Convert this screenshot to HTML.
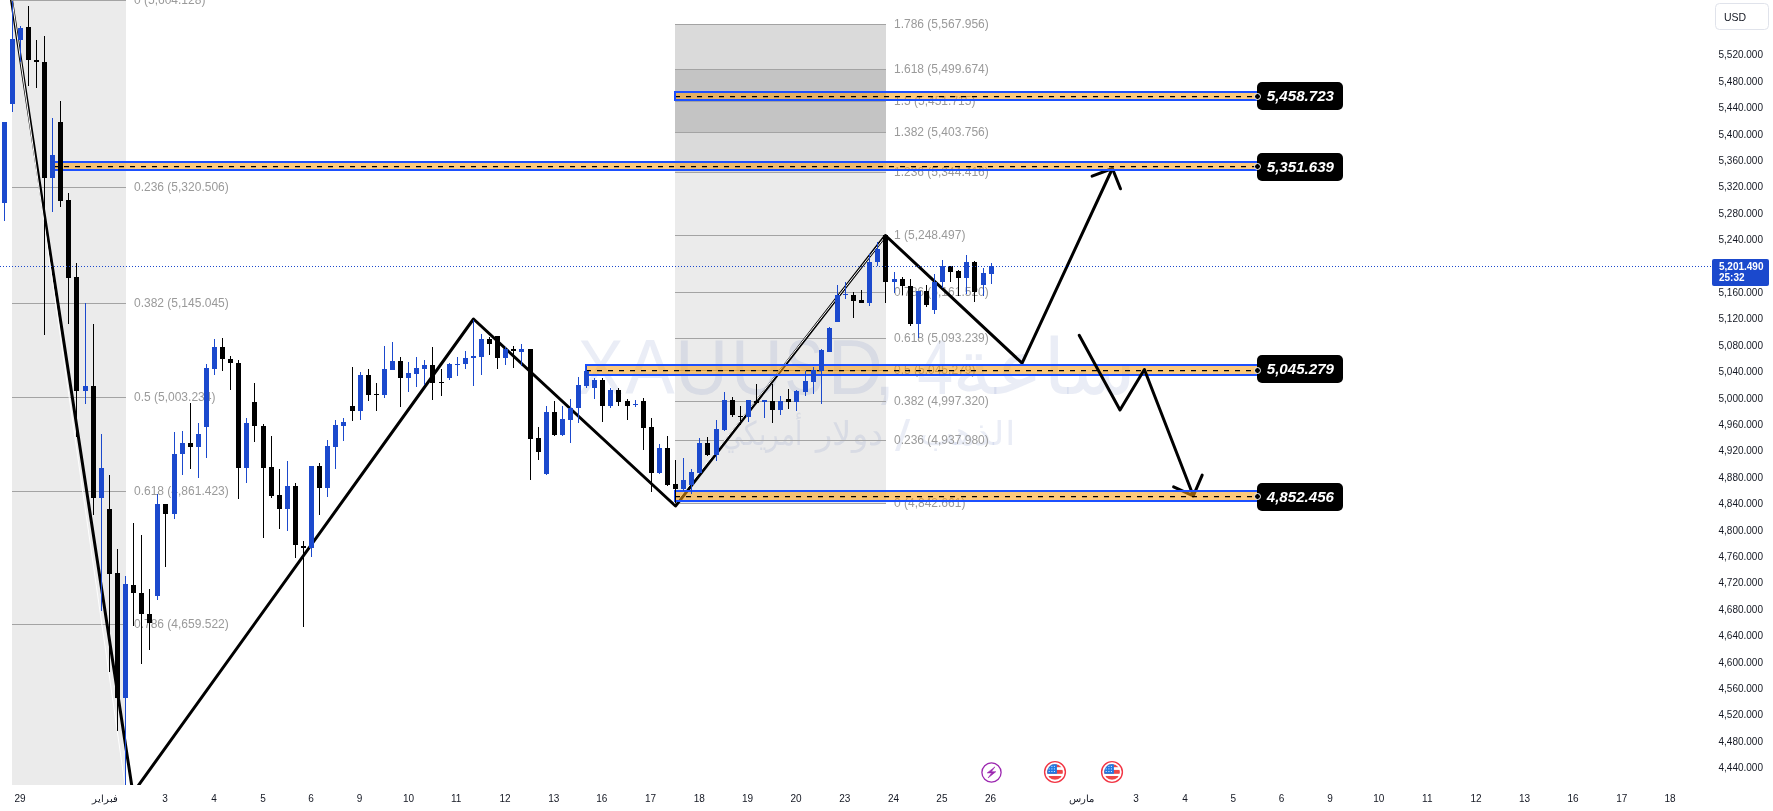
<!DOCTYPE html><html><head><meta charset="utf-8"><title>XAUUSD 4H</title><style>
html,body{margin:0;padding:0;background:#fff;overflow:hidden;width:1773px;height:811px}
svg{display:block;font-family:"Liberation Sans",sans-serif;will-change:transform}
</style></head><body>
<svg width="1773" height="811" viewBox="0 0 1773 811">
<rect x="0" y="0" width="1773" height="811" fill="#ffffff"/>
<defs><clipPath id="pane"><rect x="0" y="0" width="1711" height="785"/></clipPath></defs>
<g clip-path="url(#pane)">
<rect x="12" y="0" width="114" height="785" fill="#ebebeb"/>
<rect x="675" y="24" width="211" height="45" fill="#dadada"/>
<rect x="675" y="69" width="211" height="63" fill="#c4c4c4"/>
<rect x="675" y="132" width="211" height="40" fill="#dadada"/>
<rect x="675" y="172" width="211" height="331" fill="#ebebeb"/>
<g fill="rgb(50,80,170)" fill-opacity="0.1">
<text x="100" y="394.5" font-size="77" transform="matrix(0.8937,0,0,1,488.34,0)">X</text>
<text x="100" y="394.5" font-size="77" transform="matrix(0.9627,0,0,1,528.93,0)">A</text>
<text x="100" y="394.5" font-size="77" transform="matrix(0.9500,0,0,1,580.30,0)">U</text>
<text x="100" y="394.5" font-size="77" transform="matrix(0.9273,0,0,1,638.21,0)">U</text>
<text x="100" y="394.5" font-size="77" transform="matrix(0.7556,0,0,1,709.18,0)">S</text>
<text x="100" y="394.5" font-size="77" transform="matrix(0.9913,0,0,1,728.72,0)">D</text>
<text x="100" y="394.5" font-size="77" transform="matrix(1.0000,0,0,1,774.00,0)">,</text>
<text x="100" y="394.5" font-size="77" transform="matrix(0.8375,0,0,1,833.41,0)">4</text>
<text x="957" y="394.5" font-size="77" transform="matrix(1.0556,0,0,1,-58.44,0)">ساعة</text>
<text x="100" y="445" font-size="33" transform="matrix(0.7938,0,0,1,643.03,0)">أمريكي</text>
<text x="100" y="445" font-size="33" transform="matrix(1.0303,0,0,1,713.03,0)">دولار</text>
<text x="100" y="451" font-size="44" transform="matrix(1.2500,0,0,1,770.00,0)">/</text>
<text x="100" y="445" font-size="33" transform="matrix(1.1438,0,0,1,804.34,0)">الذهب</text>
</g>
<rect x="12" y="0" width="114" height="1" fill="#a3a3a3"/>
<rect x="12" y="187" width="114" height="1" fill="#a3a3a3"/>
<rect x="12" y="303" width="114" height="1" fill="#a3a3a3"/>
<rect x="12" y="397" width="114" height="1" fill="#a3a3a3"/>
<rect x="12" y="491" width="114" height="1" fill="#a3a3a3"/>
<rect x="12" y="624" width="114" height="1" fill="#a3a3a3"/>
<rect x="675" y="24" width="211" height="1" fill="#a3a3a3"/>
<rect x="675" y="69" width="211" height="1" fill="#a3a3a3"/>
<rect x="675" y="101" width="211" height="1" fill="#a3a3a3"/>
<rect x="675" y="132" width="211" height="1" fill="#a3a3a3"/>
<rect x="675" y="172" width="211" height="1" fill="#a3a3a3"/>
<rect x="675" y="235" width="211" height="1" fill="#a3a3a3"/>
<rect x="675" y="292" width="211" height="1" fill="#a3a3a3"/>
<rect x="675" y="338" width="211" height="1" fill="#a3a3a3"/>
<rect x="675" y="370" width="211" height="1" fill="#a3a3a3"/>
<rect x="675" y="401" width="211" height="1" fill="#a3a3a3"/>
<rect x="675" y="440" width="211" height="1" fill="#a3a3a3"/>
<rect x="675" y="503" width="211" height="1" fill="#a3a3a3"/>
<g fill="#9a9a9a" font-size="12">
<text x="134" y="4.3">0 (5,604.128)</text>
<text x="134" y="191.3">0.236 (5,320.506)</text>
<text x="134" y="307.3">0.382 (5,145.045)</text>
<text x="134" y="401.3">0.5 (5,003.234)</text>
<text x="134" y="495.3">0.618 (4,861.423)</text>
<text x="134" y="628.3">0.786 (4,659.522)</text>
<text x="894" y="28.3">1.786 (5,567.956)</text>
<text x="894" y="73.3">1.618 (5,499.674)</text>
<text x="894" y="105.3">1.5 (5,451.715)</text>
<text x="894" y="136.3">1.382 (5,403.756)</text>
<text x="894" y="176.3">1.236 (5,344.416)</text>
<text x="894" y="239.3">1 (5,248.497)</text>
<text x="894" y="296.3">0.786 (5,161.520)</text>
<text x="894" y="342.3">0.618 (5,093.239)</text>
<text x="894" y="374.3">0.5 (5,045.279)</text>
<text x="894" y="405.3">0.382 (4,997.320)</text>
<text x="894" y="444.3">0.236 (4,937.980)</text>
<text x="894" y="507.3">0 (4,842.661)</text>
</g>
<polyline points="11.5,0 132.9,793.1 473.5,319 675.5,506 885.5,235.5 1022.1,363.2 1112.4,168.5" stroke="#000" stroke-width="3" fill="none" stroke-linejoin="round" stroke-linecap="round"/>
<polyline points="1092.1,176.2 1112.4,168.5 1120.5,188.8" stroke="#000" stroke-width="3" fill="none" stroke-linejoin="round" stroke-linecap="round"/>
<line x1="12" y1="0" x2="126" y2="792" stroke="#fff" stroke-width="1"/>
<line x1="675" y1="503.5" x2="886" y2="235.5" stroke="#fff" stroke-width="1"/>
<rect x="674" y="93" width="583" height="6" fill="rgb(250,158,20)" fill-opacity="0.56"/><line x1="675" y1="96.6" x2="1257" y2="96.6" stroke="#000" stroke-width="1.2" stroke-dasharray="5 6"/><rect x="674" y="91" width="583" height="2" fill="#1c50ff"/><rect x="674" y="99" width="583" height="2" fill="#1c50ff"/><rect x="674" y="91" width="2" height="10" fill="#1c50ff"/>
<rect x="52" y="163" width="1205" height="6" fill="rgb(250,158,20)" fill-opacity="0.56"/><line x1="53" y1="166.6" x2="1257" y2="166.6" stroke="#000" stroke-width="1.2" stroke-dasharray="5 6"/><rect x="52" y="161" width="1205" height="2" fill="#1c50ff"/><rect x="52" y="169" width="1205" height="2" fill="#1c50ff"/><rect x="52" y="161" width="2" height="10" fill="#1c50ff"/>
<rect x="585" y="366" width="672" height="8" fill="rgb(250,158,20)" fill-opacity="0.56"/><line x1="586" y1="370.6" x2="1257" y2="370.6" stroke="#000" stroke-width="1.2" stroke-dasharray="5 6"/><rect x="585" y="364" width="672" height="2" fill="#1c50ff"/><rect x="585" y="374" width="672" height="2" fill="#1c50ff"/><rect x="585" y="364" width="2" height="12" fill="#1c50ff"/>
<polyline points="1079.2,335.2 1120,410 1144.4,369.5 1193.3,495.8" stroke="#000" stroke-width="3" fill="none" stroke-linejoin="round" stroke-linecap="round"/>
<polyline points="1173.6,486.8 1193.3,495.8 1202.2,475.1" stroke="#000" stroke-width="3" fill="none" stroke-linejoin="round" stroke-linecap="round"/>
<rect x="674" y="492" width="583" height="8" fill="rgb(250,158,20)" fill-opacity="0.56"/><line x1="675" y1="496.6" x2="1257" y2="496.6" stroke="#000" stroke-width="1.2" stroke-dasharray="5 6"/><rect x="674" y="490" width="583" height="2" fill="#1c50ff"/><rect x="674" y="500" width="583" height="2" fill="#1c50ff"/><rect x="674" y="490" width="2" height="12" fill="#1c50ff"/>
<rect x="1257" y="82" width="86" height="28" rx="5" fill="#000"/>
<text x="1266" y="101" font-size="14" font-weight="bold" font-style="italic" fill="#fff" transform="matrix(1.0806,0,0,1,-101.30,0)">5,458.723</text>
<circle cx="1257.5" cy="96.5" r="3" fill="#000" stroke="#fff" stroke-width="1"/>
<rect x="1257" y="153" width="86" height="28" rx="5" fill="#000"/>
<text x="1266" y="172" font-size="14" font-weight="bold" font-style="italic" fill="#fff" transform="matrix(1.0806,0,0,1,-101.30,0)">5,351.639</text>
<circle cx="1257.5" cy="166.5" r="3" fill="#000" stroke="#fff" stroke-width="1"/>
<rect x="1257" y="355" width="86" height="28" rx="5" fill="#000"/>
<text x="1266" y="374" font-size="14" font-weight="bold" font-style="italic" fill="#fff" transform="matrix(1.0806,0,0,1,-101.30,0)">5,045.279</text>
<circle cx="1257.5" cy="370.5" r="3" fill="#000" stroke="#fff" stroke-width="1"/>
<rect x="1257" y="483" width="86" height="28" rx="5" fill="#000"/>
<text x="1266" y="502" font-size="14" font-weight="bold" font-style="italic" fill="#fff" transform="matrix(1.0806,0,0,1,-101.30,0)">4,852.456</text>
<circle cx="1257.5" cy="496.5" r="3" fill="#000" stroke="#fff" stroke-width="1"/>
<path d="M4.5 122V221M12.5 1V112M20.5 26V62M52.5 118V212M85.5 303V404M101.5 434V611M125.5 576V785M157.5 494V600M174.5 432V519M182.5 431V475M198.5 423V478M206.5 364V458M214.5 339V375M246.5 418V483M287.5 461V531M311.5 466V557M327.5 440V497M335.5 420V469M343.5 418V441M360.5 372V420M384.5 346V398M392.5 342V370M408.5 362V392M416.5 357V387M424.5 360V385M449.5 363V380M457.5 357V376M465.5 351V369M473.5 320V386M481.5 334V375M505.5 347V365M521.5 344V366M546.5 406V475M562.5 406V436M570.5 399V443M578.5 377V423M586.5 366V388M594.5 378V399M610.5 388V408M635.5 400V407M659.5 444V474M683.5 458V491M691.5 469V494M699.5 438V474M716.5 420V461M724.5 392V431M748.5 400V422M764.5 400V418M780.5 396V415M796.5 390V411M805.5 371V396M813.5 367V394M821.5 349V404M829.5 327V352M837.5 285V322M845.5 282V299M869.5 254V306M877.5 242V266M894.5 272V293M918.5 291V338M934.5 274V314M942.5 260V288M966.5 255V294M983.5 268V296M991.5 263V284" stroke="#1b49cd" stroke-width="1" fill="none"/>
<path d="M2 122h5v81h-5zM10 39h5v65h-5zM18 28h5v12h-5zM50 155h5v23h-5zM83 386h5v5h-5zM99 468h5v30h-5zM123 584h5v114h-5zM155 504h5v92h-5zM172 454h5v60h-5zM180 443h5v11h-5zM196 434h5v13h-5zM204 368h5v59h-5zM212 347h5v22h-5zM244 423h5v45h-5zM285 486h5v23h-5zM309 466h5v82h-5zM325 446h5v42h-5zM333 425h5v22h-5zM341 422h5v4h-5zM358 375h5v36h-5zM382 369h5v26h-5zM390 361h5v9h-5zM406 373h5v5h-5zM414 368h5v6h-5zM422 365h5v4h-5zM447 364h5v14h-5zM455 364h5v1h-5zM463 358h5v6h-5zM471 356h5v2h-5zM479 339h5v18h-5zM503 349h5v9h-5zM519 349h5v3h-5zM544 412h5v62h-5zM560 419h5v16h-5zM568 408h5v12h-5zM576 385h5v23h-5zM584 371h5v15h-5zM592 380h5v8h-5zM608 390h5v16h-5zM633 404h5v1h-5zM657 448h5v25h-5zM681 480h5v9h-5zM689 472h5v13h-5zM697 443h5v30h-5zM714 429h5v26h-5zM722 400h5v30h-5zM746 400h5v17h-5zM762 400h5v2h-5zM778 401h5v9h-5zM794 391h5v11h-5zM803 381h5v11h-5zM811 370h5v12h-5zM819 350h5v21h-5zM827 328h5v24h-5zM835 295h5v27h-5zM843 294h5v1h-5zM867 262h5v41h-5zM875 249h5v13h-5zM892 279h5v3h-5zM916 291h5v33h-5zM932 282h5v28h-5zM940 266h5v16h-5zM964 262h5v16h-5zM981 273h5v12h-5zM989 266h5v8h-5z" fill="#1b49cd"/>
<path d="M28.5 6V86M36.5 40V88M44.5 36V335M60.5 101V207M68.5 193V324M76.5 263V437M93.5 324V515M109.5 475V672M117.5 549V731M133.5 523V626M141.5 535V664M149.5 589V650M165.5 504V567M190.5 403V469M222.5 338V371M230.5 356V390M238.5 360V499M254.5 383V442M263.5 424V538M271.5 436V498M279.5 469V529M295.5 483V558M303.5 541V627M319.5 463V515M352.5 367V421M368.5 369V401M376.5 383V411M400.5 357V407M432.5 347V400M441.5 369V396M489.5 337V355M497.5 336V369M513.5 346V368M530.5 349V480M538.5 427V460M554.5 401V436M602.5 378V422M618.5 388V406M627.5 399V420M643.5 398V450M651.5 418V492M667.5 436V486M675.5 460V503M707.5 437V456M732.5 397V417M740.5 406V425M756.5 384V404M772.5 384V423M788.5 389V409M853.5 292V318M861.5 290V303M885.5 235V303M902.5 277V295M910.5 279V326M926.5 285V307M950.5 266V282M958.5 270V296M974.5 261V302" stroke="#000000" stroke-width="1" fill="none"/>
<path d="M26 27h5v33h-5zM34 60h5v2h-5zM42 62h5v116h-5zM58 122h5v79h-5zM66 200h5v78h-5zM74 277h5v114h-5zM91 386h5v112h-5zM107 509h5v65h-5zM115 573h5v125h-5zM131 585h5v8h-5zM139 593h5v21h-5zM147 614h5v9h-5zM163 504h5v10h-5zM188 443h5v4h-5zM220 347h5v12h-5zM228 359h5v4h-5zM236 363h5v105h-5zM252 402h5v24h-5zM261 426h5v42h-5zM269 467h5v29h-5zM277 495h5v14h-5zM293 486h5v59h-5zM301 546h5v2h-5zM317 466h5v22h-5zM350 406h5v5h-5zM366 375h5v20h-5zM374 394h5v1h-5zM398 361h5v17h-5zM430 365h5v18h-5zM439 382h5v1h-5zM487 339h5v5h-5zM495 336h5v22h-5zM511 349h5v2h-5zM528 349h5v90h-5zM536 438h5v14h-5zM552 412h5v23h-5zM600 380h5v26h-5zM616 390h5v12h-5zM625 401h5v5h-5zM641 401h5v27h-5zM649 427h5v46h-5zM665 448h5v37h-5zM673 484h5v5h-5zM705 443h5v12h-5zM730 400h5v15h-5zM738 416h5v1h-5zM754 401h5v2h-5zM770 401h5v9h-5zM786 399h5v3h-5zM851 295h5v6h-5zM859 300h5v3h-5zM883 235h5v47h-5zM900 279h5v7h-5zM908 286h5v38h-5zM924 291h5v14h-5zM948 266h5v6h-5zM956 271h5v7h-5zM972 262h5v30h-5z" fill="#000000"/>
<line x1="0" y1="266.5" x2="1711" y2="266.5" stroke="#1b49cd" stroke-width="1" stroke-dasharray="1 2"/>
</g>
<g font-size="10" fill="#131722" text-anchor="end">
<text x="1763" y="58.4">5,520.000</text>
<text x="1763" y="84.8">5,480.000</text>
<text x="1763" y="111.2">5,440.000</text>
<text x="1763" y="137.6">5,400.000</text>
<text x="1763" y="164.0">5,360.000</text>
<text x="1763" y="190.4">5,320.000</text>
<text x="1763" y="216.8">5,280.000</text>
<text x="1763" y="243.2">5,240.000</text>
<text x="1763" y="296.0">5,160.000</text>
<text x="1763" y="322.4">5,120.000</text>
<text x="1763" y="348.8">5,080.000</text>
<text x="1763" y="375.1">5,040.000</text>
<text x="1763" y="401.5">5,000.000</text>
<text x="1763" y="427.9">4,960.000</text>
<text x="1763" y="454.3">4,920.000</text>
<text x="1763" y="480.7">4,880.000</text>
<text x="1763" y="507.1">4,840.000</text>
<text x="1763" y="533.5">4,800.000</text>
<text x="1763" y="559.9">4,760.000</text>
<text x="1763" y="586.3">4,720.000</text>
<text x="1763" y="612.7">4,680.000</text>
<text x="1763" y="639.1">4,640.000</text>
<text x="1763" y="665.5">4,600.000</text>
<text x="1763" y="691.8">4,560.000</text>
<text x="1763" y="718.2">4,520.000</text>
<text x="1763" y="744.6">4,480.000</text>
<text x="1763" y="771.0">4,440.000</text>
</g>
<rect x="1715.5" y="3.5" width="53" height="26" rx="4" fill="#fff" stroke="#e0e3eb"/>
<text x="1724" y="21" font-size="10.5" fill="#131722">USD</text>
<rect x="1712" y="259" width="57" height="27" rx="2" fill="#1b49cd"/>
<text x="1719" y="269.5" font-size="10" font-weight="bold" fill="#fff">5,201.490</text>
<text x="1719" y="281" font-size="10" font-weight="bold" fill="#fff">25:32</text>
<g font-size="10" fill="#131722" text-anchor="middle">
<text x="20" y="801.5">29</text>
<text x="105" y="801.5">فبراير</text>
<text x="165" y="801.5">3</text>
<text x="214" y="801.5">4</text>
<text x="263" y="801.5">5</text>
<text x="311" y="801.5">6</text>
<text x="359.6" y="801.5">9</text>
<text x="408.6" y="801.5">10</text>
<text x="456.2" y="801.5">11</text>
<text x="505" y="801.5">12</text>
<text x="553.7" y="801.5">13</text>
<text x="601.8" y="801.5">16</text>
<text x="650.5" y="801.5">17</text>
<text x="699.2" y="801.5">18</text>
<text x="747.6" y="801.5">19</text>
<text x="796" y="801.5">20</text>
<text x="844.7" y="801.5">23</text>
<text x="893.5" y="801.5">24</text>
<text x="941.9" y="801.5">25</text>
<text x="990.6" y="801.5">26</text>
<text x="1081.5" y="801.5">مارس</text>
<text x="1136" y="801.5">3</text>
<text x="1185" y="801.5">4</text>
<text x="1233.3" y="801.5">5</text>
<text x="1281.5" y="801.5">6</text>
<text x="1330" y="801.5">9</text>
<text x="1378.7" y="801.5">10</text>
<text x="1427.3" y="801.5">11</text>
<text x="1476" y="801.5">12</text>
<text x="1524.5" y="801.5">13</text>
<text x="1573" y="801.5">16</text>
<text x="1621.8" y="801.5">17</text>
<text x="1670" y="801.5">18</text>
</g>
<circle cx="991.5" cy="772.5" r="9.6" fill="#fff" stroke="#9c27b0" stroke-width="1.3"/>
<polygon points="994.9,766.9 987.2,772.9 991.7,772.9 988.1,777.9 995.8,771.7 991.3,771.7" fill="#9c27b0" stroke="#9c27b0" stroke-width="0.6" stroke-linejoin="round"/>
<circle cx="1055" cy="772" r="10.4" fill="#fff" stroke="#f23645" stroke-width="1.4"/><clipPath id="fc1055"><circle cx="1055" cy="772" r="7.9"/></clipPath><g clip-path="url(#fc1055)"><rect x="1047" y="764.4" width="16" height="2.8" fill="#ee4646"/><rect x="1047" y="769.9" width="16" height="3.9" fill="#ee4646"/><rect x="1047" y="776.0" width="16" height="3.7" fill="#ee4646"/><rect x="1047.1" y="764.1" width="9.8" height="9.7" fill="#2079e2"/><rect x="1048.7" y="765.9" width="1" height="1" fill="#fff" fill-opacity="0.9"/><rect x="1048.7" y="768.4" width="1" height="1" fill="#fff" fill-opacity="0.9"/><rect x="1048.7" y="771.0" width="1" height="1" fill="#fff" fill-opacity="0.9"/><rect x="1051.4" y="765.9" width="1" height="1" fill="#fff" fill-opacity="0.9"/><rect x="1051.4" y="768.4" width="1" height="1" fill="#fff" fill-opacity="0.9"/><rect x="1051.4" y="771.0" width="1" height="1" fill="#fff" fill-opacity="0.9"/><rect x="1053.9" y="765.9" width="1" height="1" fill="#fff" fill-opacity="0.9"/><rect x="1053.9" y="768.4" width="1" height="1" fill="#fff" fill-opacity="0.9"/><rect x="1053.9" y="771.0" width="1" height="1" fill="#fff" fill-opacity="0.9"/></g>
<circle cx="1112" cy="772" r="10.4" fill="#fff" stroke="#f23645" stroke-width="1.4"/><clipPath id="fc1112"><circle cx="1112" cy="772" r="7.9"/></clipPath><g clip-path="url(#fc1112)"><rect x="1104" y="764.4" width="16" height="2.8" fill="#ee4646"/><rect x="1104" y="769.9" width="16" height="3.9" fill="#ee4646"/><rect x="1104" y="776.0" width="16" height="3.7" fill="#ee4646"/><rect x="1104.1" y="764.1" width="9.8" height="9.7" fill="#2079e2"/><rect x="1105.7" y="765.9" width="1" height="1" fill="#fff" fill-opacity="0.9"/><rect x="1105.7" y="768.4" width="1" height="1" fill="#fff" fill-opacity="0.9"/><rect x="1105.7" y="771.0" width="1" height="1" fill="#fff" fill-opacity="0.9"/><rect x="1108.4" y="765.9" width="1" height="1" fill="#fff" fill-opacity="0.9"/><rect x="1108.4" y="768.4" width="1" height="1" fill="#fff" fill-opacity="0.9"/><rect x="1108.4" y="771.0" width="1" height="1" fill="#fff" fill-opacity="0.9"/><rect x="1110.9" y="765.9" width="1" height="1" fill="#fff" fill-opacity="0.9"/><rect x="1110.9" y="768.4" width="1" height="1" fill="#fff" fill-opacity="0.9"/><rect x="1110.9" y="771.0" width="1" height="1" fill="#fff" fill-opacity="0.9"/></g>
</svg></body></html>
